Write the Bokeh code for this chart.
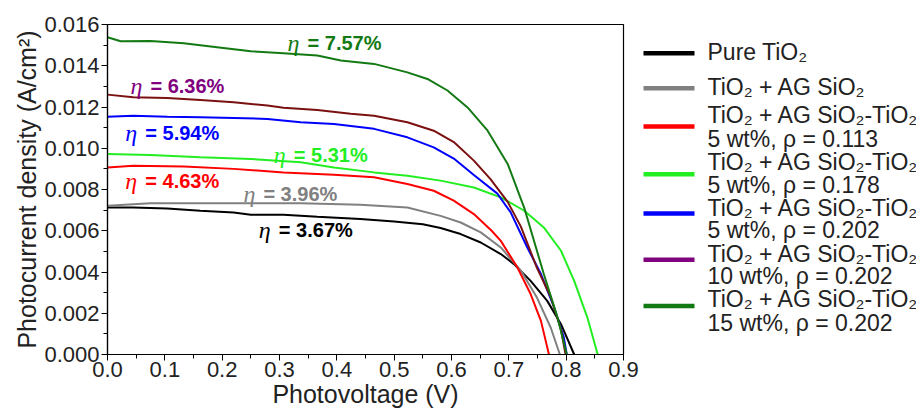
from bokeh.plotting import figure
from bokeh.models import Range1d, FixedTicker, PrintfTickFormatter, ColumnDataSource
from bokeh.layouts import row
from bokeh.embed import file_html
from bokeh.resources import INLINE
from bokeh.core.properties import value

FONT = "Liberation Sans"

# ---------------- data ----------------
v_pure = [0.0, 0.045, 0.104, 0.162, 0.22, 0.25, 0.307, 0.366, 0.441, 0.5, 0.55, 0.581, 0.616, 0.651, 0.686, 0.709, 0.738, 0.767, 0.791, 0.814]
j_pure = [0.00713, 0.00713, 0.00708, 0.00697, 0.00689, 0.00678, 0.00678, 0.00668, 0.00657, 0.00645, 0.00632, 0.00613, 0.00584, 0.00543, 0.00487, 0.00438, 0.00357, 0.0026, 0.00147, 0.0]

v_ag = [0.0, 0.075, 0.162, 0.25, 0.337, 0.441, 0.523, 0.581, 0.616, 0.651, 0.686, 0.721, 0.749, 0.773, 0.789]
j_ag = [0.00721, 0.00733, 0.00733, 0.00733, 0.00733, 0.00726, 0.00713, 0.00672, 0.0064, 0.00592, 0.00519, 0.00406, 0.00276, 0.00131, 0.0]

v_113 = [0.0, 0.045, 0.133, 0.22, 0.307, 0.395, 0.465, 0.523, 0.569, 0.604, 0.639, 0.67, 0.686, 0.715, 0.738, 0.756, 0.770]
j_113 = [0.00907, 0.00915, 0.00912, 0.009, 0.00883, 0.00872, 0.00859, 0.00827, 0.00794, 0.00746, 0.00681, 0.006, 0.00551, 0.00422, 0.00293, 0.00163, 0.0]

v_178 = [0.0, 0.075, 0.162, 0.25, 0.337, 0.395, 0.465, 0.523, 0.581, 0.639, 0.686, 0.727, 0.761, 0.791, 0.814, 0.837, 0.855]
j_178 = [0.00972, 0.00967, 0.00956, 0.00948, 0.00932, 0.00907, 0.00883, 0.00867, 0.00843, 0.0081, 0.00762, 0.00697, 0.00616, 0.00503, 0.00357, 0.00179, 0.0]

v_202_5 = [0.0, 0.045, 0.104, 0.162, 0.22, 0.279, 0.337, 0.395, 0.465, 0.523, 0.569, 0.604, 0.639, 0.68, 0.703, 0.732, 0.756, 0.779, 0.796, 0.801]
j_202_5 = [0.01153, 0.01158, 0.01153, 0.0115, 0.01147, 0.01142, 0.01126, 0.01118, 0.01094, 0.01053, 0.01004, 0.0095, 0.0087, 0.0078, 0.0069, 0.0052, 0.0039, 0.00228, 0.00082, 0.0]

v_202_10 = [0.0, 0.045, 0.104, 0.162, 0.22, 0.279, 0.307, 0.366, 0.424, 0.465, 0.523, 0.569, 0.604, 0.639, 0.668, 0.698, 0.721, 0.749, 0.773, 0.791, 0.799]
j_202_10 = [0.0126, 0.01247, 0.01244, 0.01234, 0.01223, 0.01207, 0.01196, 0.01186, 0.01167, 0.01158, 0.01126, 0.01085, 0.0103, 0.0094, 0.0085, 0.0074, 0.0062, 0.0042, 0.0028, 0.0012, 0.0]

v_202_15 = [0.0, 0.023, 0.075, 0.133, 0.191, 0.25, 0.307, 0.366, 0.407, 0.465, 0.523, 0.558, 0.593, 0.628, 0.663, 0.698, 0.727, 0.761, 0.785, 0.801]
j_202_15 = [0.01538, 0.01519, 0.0152, 0.01509, 0.0149, 0.0147, 0.01461, 0.0145, 0.01425, 0.01409, 0.01368, 0.01336, 0.0128, 0.01198, 0.01085, 0.00924, 0.0071, 0.0039, 0.00179, 0.0]

eff_labels = ["7.57%", "6.36%", "5.94%", "5.31%", "4.63%", "3.96%", "3.67%"]

legend_line1 = ["Pure TiO\u2082", "TiO\u2082 + AG SiO\u2082",
                "TiO\u2082 + AG SiO\u2082-TiO\u2082", "TiO\u2082 + AG SiO\u2082-TiO\u2082",
                "TiO\u2082 + AG SiO\u2082-TiO\u2082", "TiO\u2082 + AG SiO\u2082-TiO\u2082",
                "TiO\u2082 + AG SiO\u2082-TiO\u2082"]
legend_line2 = ["", "", "5 wt%,  \u03c1 = 0.113", "5 wt%,  \u03c1 = 0.178",
                "5 wt%,  \u03c1 = 0.202", "10 wt%,  \u03c1 = 0.202", "15 wt%,  \u03c1 = 0.202"]

x_ticks = [0.0, 0.1, 0.2, 0.3, 0.4, 0.5, 0.6, 0.7, 0.8, 0.9]
y_ticks = [0.0, 0.002, 0.004, 0.006, 0.008, 0.010, 0.012, 0.014, 0.016]

# ---------------- styles ----------------
C_BLACK = "#000000"
C_GRAY = "#808080"
C_RED = "#ff0000"
C_LGREEN = "#22ee22"
C_BLUE = "#0000ff"
C_WINE = "#7a1010"
C_PURPLE = "#800080"
C_DGREEN = "#137a13"

p = figure(width=640, height=414, x_range=Range1d(0, 0.9), y_range=Range1d(0, 0.016),
           output_backend="svg", toolbar_location=None,
           min_border_left=107, min_border_right=17, min_border_top=24, min_border_bottom=60)
p.grid.visible = False
p.outline_line_color = "black"
p.outline_line_width = 1.2
p.background_fill_color = "white"
p.border_fill_color = "white"

series = [
    (v_pure, j_pure, C_BLACK),
    (v_ag, j_ag, C_GRAY),
    (v_113, j_113, C_RED),
    (v_178, j_178, C_LGREEN),
    (v_202_5, j_202_5, C_BLUE),
    (v_202_10, j_202_10, C_WINE),
    (v_202_15, j_202_15, C_DGREEN),
]
for vx, jy, col in series:
    p.line(vx, jy, line_color=col, line_width=2)

# efficiency annotations
ann = ColumnDataSource(dict(
    x=[0.314, 0.040, 0.031, 0.290, 0.031, 0.237, 0.264],
    y=[0.01508, 0.01304, 0.01076, 0.00969, 0.00843, 0.00779, 0.00605],
    eta=["\u03b7"] * 7,
    txt=["= " + s for s in eff_labels],
    col=[C_DGREEN, C_PURPLE, C_BLUE, C_LGREEN, C_RED, C_GRAY, C_BLACK],
))
p.text(x="x", y="y", text="eta", source=ann, text_color="col",
       text_font=value("Liberation Serif"), text_font_style="italic",
       text_font_size="24px", text_baseline="middle", text_align="left")
p.text(x="x", y="y", text="txt", source=ann, text_color="col", x_offset=20,
       text_font=value(FONT), text_font_style="bold",
       text_font_size="20px", text_baseline="middle", text_align="left")

for ax in (p.xaxis[0], p.yaxis[0]):
    ax.axis_line_color = "black"
    ax.axis_line_width = 1.2
    ax.major_tick_line_color = "black"
    ax.minor_tick_line_color = "black"
    ax.major_tick_in = 0
    ax.major_tick_out = 6
    ax.minor_tick_in = 0
    ax.minor_tick_out = 4
    ax.major_label_text_font = FONT
    ax.major_label_text_font_size = "22px"
    ax.major_label_text_color = "#222222"
    ax.axis_label_text_font = FONT
    ax.axis_label_text_font_size = "25px"
    ax.axis_label_text_font_style = "normal"
    ax.axis_label_text_color = "#222222"

p.xaxis.ticker = FixedTicker(ticks=x_ticks, minor_ticks=[0.05 + 0.1 * i for i in range(9)])
p.yaxis.ticker = FixedTicker(ticks=y_ticks, minor_ticks=[0.001 + 0.002 * i for i in range(8)])
p.xaxis.formatter = PrintfTickFormatter(format="%.1f")
p.yaxis.formatter = PrintfTickFormatter(format="%.3f")
p.xaxis.axis_label = "Photovoltage (V)"
p.yaxis.axis_label = "Photocurrent density (A/cm\u00b2)"
p.xaxis.major_label_standoff = 1
p.xaxis.axis_label_standoff = 0
p.yaxis.major_label_standoff = 2
p.yaxis.axis_label_standoff = 0

# ---------------- legend panel ----------------
LW, LH = 276, 414
lg = figure(width=LW, height=LH, x_range=Range1d(0, LW), y_range=Range1d(LH, 0),
            output_backend="svg", toolbar_location=None,
            min_border_left=0, min_border_right=0, min_border_top=0, min_border_bottom=0)
lg.axis.visible = False
lg.grid.visible = False
lg.outline_line_color = None
lg.background_fill_color = "white"
lg.border_fill_color = "white"

leg_colors = [C_BLACK, C_GRAY, C_RED, C_LGREEN, C_BLUE, C_PURPLE, C_DGREEN]
seg_y = [36, 80, 128, 188, 237, 295, 353]
t1_y = [35, 79, 114, 173, 230, 288, 344]
t2_y = [0, 0, 144, 201, 258, 315, 374]

lg.segment(x0=[3] * 7, y0=seg_y, x1=[54] * 7, y1=seg_y, line_color=leg_colors, line_width=4.5)
lg.text(x=[67] * 7, y=t1_y, text=legend_line1, text_font=value(FONT), text_font_size="23px",
        text_baseline="middle", text_align="left", text_color="#222222")
lg.text(x=[67] * 5, y=t2_y[2:], text=legend_line2[2:], text_font=value(FONT), text_font_size="23px",
        text_baseline="middle", text_align="left", text_color="#222222")

layout = row(p, lg)
open("out.html", "w").write(file_html(layout, INLINE))
